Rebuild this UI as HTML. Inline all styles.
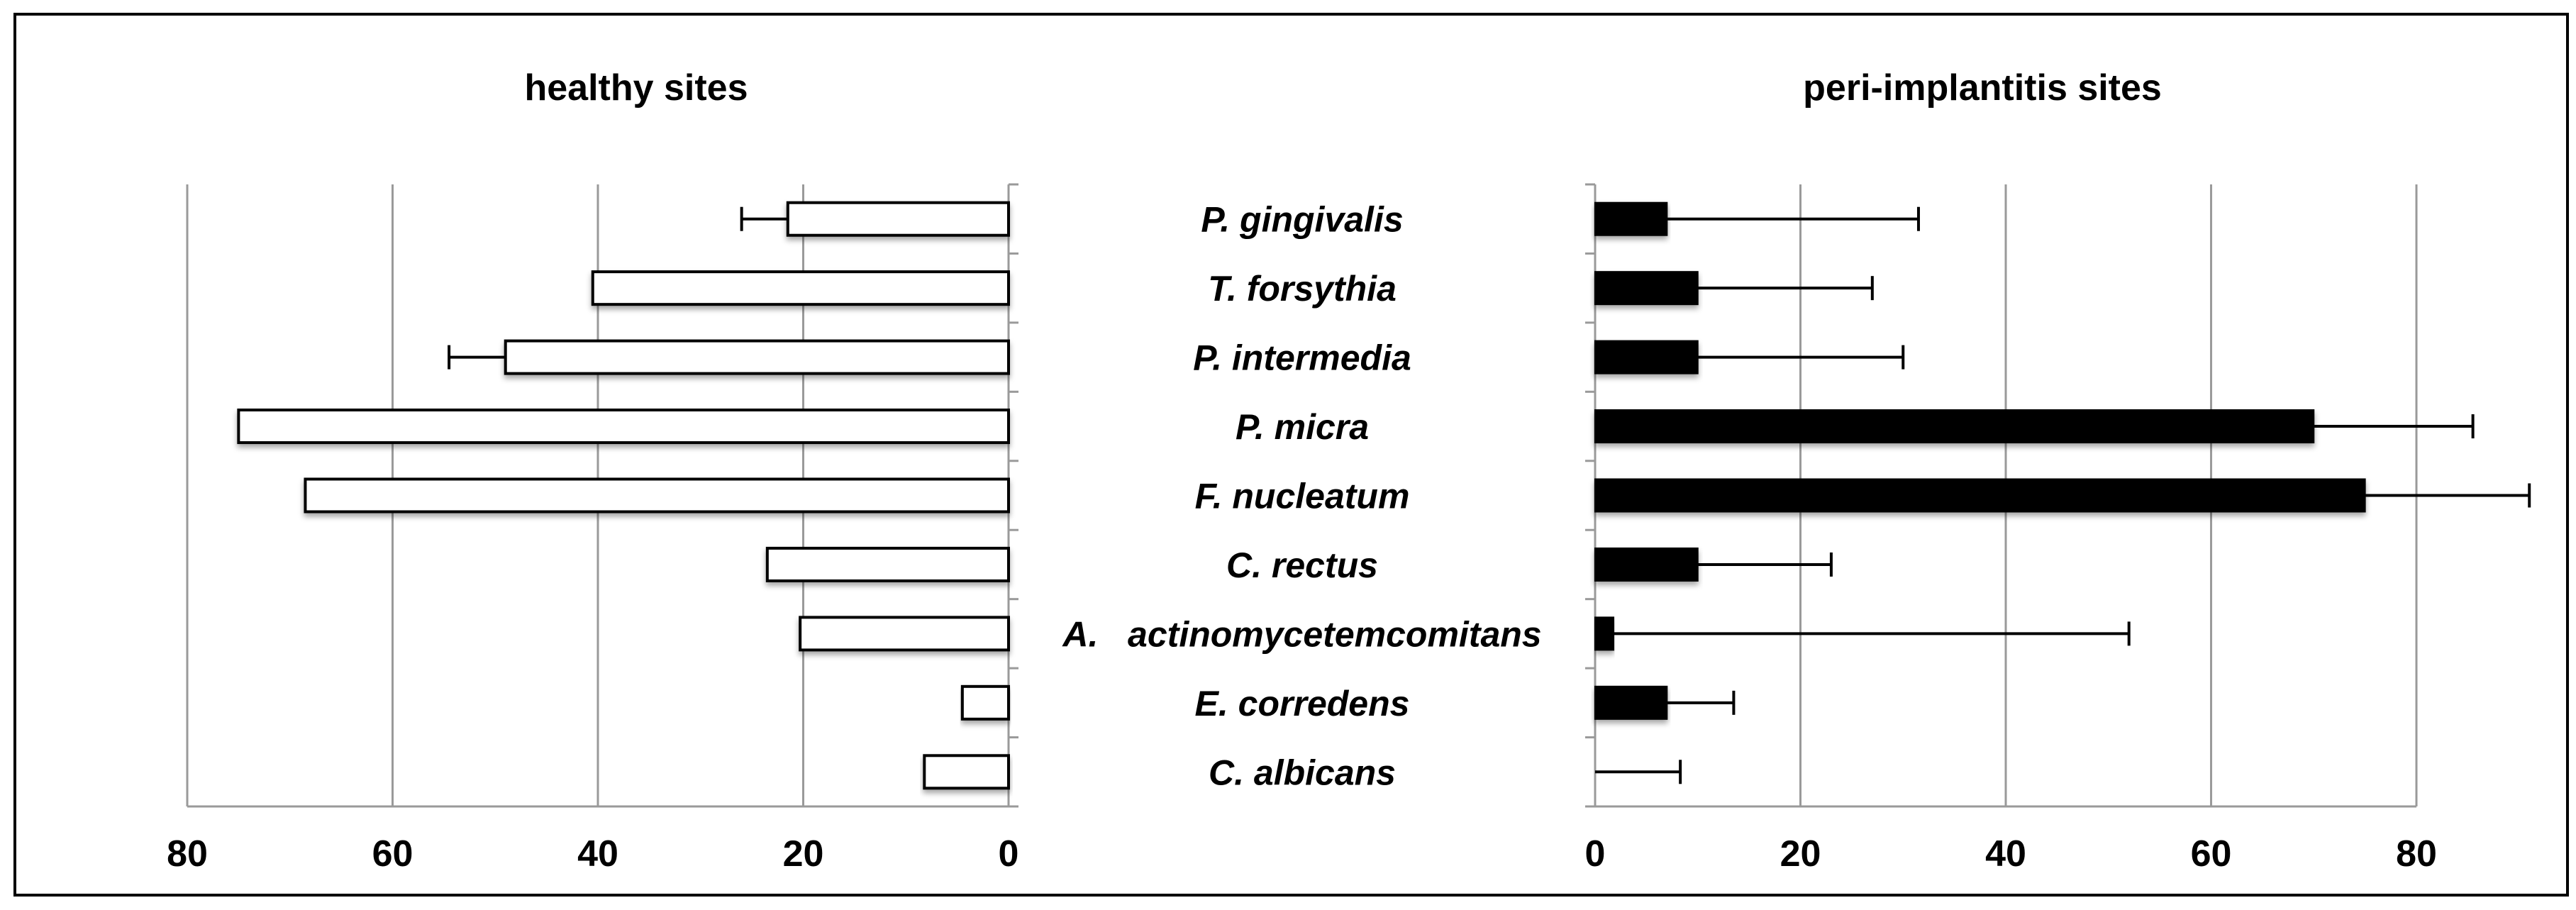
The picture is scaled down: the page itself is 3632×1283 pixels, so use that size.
<!DOCTYPE html>
<html><head><meta charset="utf-8"><style>
html,body{margin:0;padding:0;background:#fff;}
svg{display:block;}
text{font-family:"Liberation Sans",Arial,sans-serif;font-weight:bold;fill:#000;}
</style></head><body>
<svg id="chart" width="3632" height="1283" viewBox="0 0 3632 1283" xmlns="http://www.w3.org/2000/svg">
<defs><filter id="sh" x="-5%" y="-20%" width="110%" height="160%"><feDropShadow dx="0" dy="5" stdDeviation="4" flood-color="#000" flood-opacity="0.35"/></filter></defs>
<rect x="21" y="20" width="3599" height="1242" fill="#fff" stroke="#000" stroke-width="4"/>
<text x="897" y="141" font-size="52" text-anchor="middle">healthy sites</text>
<text x="2795" y="141" font-size="52" text-anchor="middle">peri-implantitis sites</text>
<g id="grid"></g><g id="bars"></g><g id="labels"></g>
</svg>
<script>
const categories = ["P. gingivalis","T. forsythia","P. intermedia","P. micra","F. nucleatum","C. rectus","A.   actinomycetemcomitans","E. corredens","C. albicans"];
const healthyValues = [21.5, 40.5, 49, 75, 68.5, 23.5, 20.3, 4.5, 8.2];
const healthyErrors = [26, null, 54.5, null, null, null, null, null, null];
const periValues = [7, 10, 10, 70, 75, 10, 1.8, 7, 0];
const periErrors = [31.5, 27, 30, 85.5, 91, 23, 52, 13.5, 8.3];
const tickValues = [0, 20, 40, 60, 80];

const NS = "http://www.w3.org/2000/svg";
const svg = document.getElementById('chart');
const grid = document.getElementById('grid'), barsG = document.getElementById('bars'), labG = document.getElementById('labels');
const top_ = 260, bot = 1137, band = (bot - top_) / categories.length;
const unit = 14.475;
const leftX = v => 1422 - v * unit;
const rightX = v => 2249 + v * unit;
const yC = i => top_ + band * (i + 0.5);
function mk(tag, attrs, parent) { const e = document.createElementNS(NS, tag); for (const k in attrs) e.setAttribute(k, attrs[k]); parent.appendChild(e); return e; }

tickValues.forEach(t => {
  [[leftX, 'left'], [rightX, 'right']].forEach(([fx, side]) => {
    const x = fx(t);
    if (t > 0) {
      const g = mk('line', {x1: x, x2: x, y1: top_, y2: bot, stroke: '#9a9a9a', 'stroke-width': 3}, grid);
      
      
    }
    const tx = mk('text', {x: x, y: 1221, 'font-size': 52, 'text-anchor': 'middle'}, labG);
    tx.textContent = t;
    
    
  });
});
[[leftX(80), leftX(0) + 14, leftX(0), 1], [rightX(0) - 14, rightX(80), rightX(0), -1]].forEach(([xa, xb, xAx, dir], k) => {
  const h = mk('line', {x1: xa, x2: xb, y1: bot, y2: bot, stroke: '#9a9a9a', 'stroke-width': 3}, grid);
  
  
  const v = mk('line', {x1: xAx, x2: xAx, y1: top_, y2: bot, stroke: '#9a9a9a', 'stroke-width': 3}, grid);
  
  
  for (let i = 0; i <= categories.length; i++) {
    const y = top_ + band * i;
    const tk = mk('line', {x1: xAx, x2: xAx + 14 * dir, y1: y, y2: y, stroke: '#9a9a9a', 'stroke-width': 3}, grid);
    
    
  }
});
const bh = 46;
function errBar(x0, x1, y) {
  const l = mk('line', {x1: x0, x2: x1, y1: y, y2: y, stroke: '#000', 'stroke-width': 4}, barsG);
  
  
  const c = mk('line', {x1: x1, x2: x1, y1: y - 17, y2: y + 17, stroke: '#000', 'stroke-width': 4}, barsG);
  
  
}
categories.forEach((c, i) => {
  const y = yC(i);
  const hv = healthyValues[i];
  if (healthyErrors[i] != null) errBar(leftX(hv), leftX(healthyErrors[i]), y);
  const r = mk('rect', {x: leftX(hv), y: y - bh / 2, width: hv * unit, height: bh, fill: '#fff', stroke: '#000', 'stroke-width': 4, filter: 'url(#sh)'}, barsG);
  
  
  const pv = periValues[i];
  if (periErrors[i] != null) errBar(rightX(pv), rightX(periErrors[i]), y);
  if (pv > 0) {
    const p = mk('rect', {x: rightX(0), y: y - bh / 2, width: pv * unit, height: bh, fill: '#000', stroke: '#000', 'stroke-width': 2, filter: 'url(#sh)'}, barsG);
    
    
  }
  const t = mk('text', {x: 1836, y: y + 18, 'font-size': 50, 'font-style': 'italic', 'text-anchor': 'middle'}, labG);
  t.textContent = c;
  t.setAttribute('xml:space', 'preserve');
  t.style.whiteSpace = 'pre';
  
  
});
</script>
</body></html>
